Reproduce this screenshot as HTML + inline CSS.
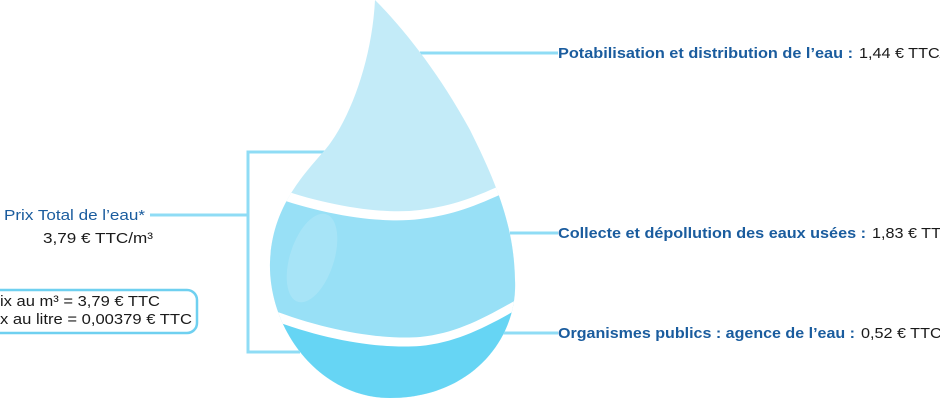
<!DOCTYPE html>
<html><head><meta charset="utf-8"><style>
html,body{margin:0;padding:0;background:#fff;width:940px;height:400px;overflow:hidden}
svg{display:block}
text{font-family:"Liberation Sans",sans-serif}
.b{font-weight:bold;fill:#1a5c9e}
.r{fill:#1a1a1a}
</style></head><body>
<svg width="940" height="400" viewBox="0 0 940 400" xmlns="http://www.w3.org/2000/svg">
<defs>
<clipPath id="drop">
<path d="M375,0 C372,60 350,120 325,150 C300,178 272,210 270,262 C268,330 320,398 390,398 C470,398 518,340 515,280 C514,230 500,190 470,130 C440,75 405,30 375,0 Z"/>
</clipPath>
</defs>
<g stroke="#8fdcf5" stroke-width="3" fill="none">
<path d="M420,53 H558"/>
<path d="M510,233 H558"/>
<path d="M495,333 H558"/>
<path d="M325,152 H248 V352 H300"/>
<path d="M150,215 H248"/>
</g>
<g clip-path="url(#drop)">
<rect x="260" y="0" width="270" height="400" fill="#c3ebf8"/>
<path d="M260,182 C320,205 380,215 420,210 C460,205 480,195 530,172 V400 H260 Z" fill="#fff"/>
<path d="M260,192 C320,215 380,224 420,219 C460,214 480,204 530,181 V400 H260 Z" fill="#98e0f6"/>
<path d="M260,305 C320,330 380,340 420,337 C460,333 490,315 530,292 V400 H260 Z" fill="#fff"/>
<path d="M260,315 C320,340 380,349 420,346 C460,342 490,325 530,302 V400 H260 Z" fill="#66d5f4"/>
<ellipse cx="312" cy="258" rx="22" ry="46" transform="rotate(18 312 258)" fill="#ffffff" fill-opacity="0.15"/>
</g>
<text x="558" y="58" font-size="15" class="b" textLength="295" lengthAdjust="spacingAndGlyphs">Potabilisation et distribution de l’eau :</text>
<text x="859" y="58" font-size="15" class="r" textLength="104" lengthAdjust="spacingAndGlyphs">1,44 € TTC/m³</text>
<text x="558" y="238" font-size="15" class="b" textLength="308" lengthAdjust="spacingAndGlyphs">Collecte et dépollution des eaux usées :</text>
<text x="872" y="238" font-size="15" class="r" textLength="104" lengthAdjust="spacingAndGlyphs">1,83 € TTC/m³</text>
<text x="558" y="338" font-size="15" class="b" textLength="297" lengthAdjust="spacingAndGlyphs">Organismes publics : agence de l’eau :</text>
<text x="861" y="338" font-size="15" class="r" textLength="104" lengthAdjust="spacingAndGlyphs">0,52 € TTC/m³</text>
<text x="4" y="220" font-size="15" fill="#1a5c9e" textLength="141" lengthAdjust="spacingAndGlyphs">Prix Total de l’eau*</text>
<text x="43" y="243" font-size="15" class="r" textLength="110" lengthAdjust="spacingAndGlyphs">3,79 € TTC/m³</text>
<rect x="-20" y="290" width="217" height="43" rx="10" ry="10" fill="#fff" stroke="#6fd0f0" stroke-width="2.5"/>
<text x="0" y="306" font-size="15" class="r" textLength="160" lengthAdjust="spacingAndGlyphs">ix au m³ = 3,79 € TTC</text>
<text x="0" y="324" font-size="15" class="r" textLength="192" lengthAdjust="spacingAndGlyphs">x au litre = 0,00379 € TTC</text>
</svg>
</body></html>
